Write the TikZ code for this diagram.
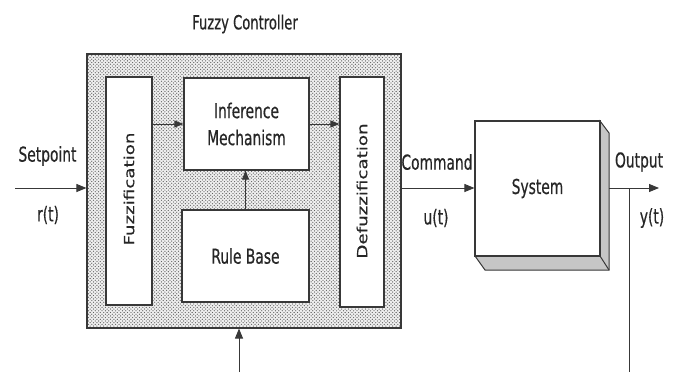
\documentclass[tikz,border=0pt]{standalone}
\usepackage{fontspec}
\setmainfont{DejaVu Sans Condensed}
\newfontfamily\hfont{DejaVu Sans Condensed}[FakeStretch=0.75,FakeBold=0.5]
\newfontfamily\vfont{DejaVu Sans Condensed}[FakeStretch=1.45,FakeBold=0.4]
\usetikzlibrary{arrows.meta,patterns,calc}
% sparse dot texture for the controller housing
\pgfdeclarepatternformonly{housingdots}{\pgfqpoint{-1pt}{-1pt}}{\pgfqpoint{2.5pt}{2.5pt}}{\pgfqpoint{3.4pt}{3.4pt}}{%
  \pgfpathcircle{\pgfqpoint{0pt}{0pt}}{0.65pt}
  \pgfpathcircle{\pgfqpoint{1.7pt}{1.7pt}}{0.65pt}
  \pgfusepath{fill}}
\begin{document}
\begin{tikzpicture}[x=1pt,y=-1pt,
  line color/.style={draw=black!78},
  block/.style={line color,line width=1.1pt,fill=white,inner sep=0pt,text=black!85,
    font=\hfont\fontsize{20.5}{27}\selectfont,align=center},
  label/.style={inner sep=0pt,text=black!85,font=\hfont\fontsize{20.5}{27}\selectfont},
  vlabel/.style={inner sep=0pt,text=black!85,rotate=90,font=\vfont\fontsize{14}{16}\selectfont},
  flow/.style={line color,line width=0.9pt,-{Triangle[length=10pt,width=8pt]}},
  innerflow/.style={line color,line width=0.8pt,-{Triangle[length=9pt,width=7pt]}},
  plain/.style={line color,line width=0.9pt}]
\useasboundingbox (0,0) rectangle (677,372);

% controller housing with dotted fill
\path[fill=gray!12] (87,54) rectangle (401,328);
\path[pattern=housingdots,pattern color=black!62] (87,54) rectangle (401,328);
\node[draw=black!78,line width=1.1pt,minimum width=314pt,minimum height=274pt,inner sep=0pt]
  (ctrl) at (244,191) {};
\node[label,font=\hfont\fontsize{19.5}{22}\selectfont] (ctrltitle) at (245,24) {Fuzzy Controller};

% inner blocks
\node[block,minimum width=46pt,minimum height=228pt] (fuzz) at (129,191) {};
\node[vlabel] (fuzztext) at (129,189) {Fuzzification};
\node[block,minimum width=125pt,minimum height=92pt] (inf) at (246.5,124) {Inference\\Mechanism};
\node[block,minimum width=127pt,minimum height=92pt] (rule) at (245.5,256) {Rule Base};
\node[block,minimum width=44pt,minimum height=230pt] (defuzz) at (362,192) {};
\node[vlabel] (defuzztext) at (362,191) {Defuzzification};

% plant block with bevelled sides
\path[fill=gray!45,line color,line width=1pt] (600,121) -- (609,133) -- (609,270) -- (485,270) -- (475,256) -- (600,256) -- cycle;
\draw[line color,line width=1pt] (600,256) -- (609,270);
\node[block,minimum width=125pt,minimum height=135pt] (sys) at (537.5,188.5) {System};

% signal labels
\node[label] (setpt) at (47.5,156) {Setpoint};
\node[label] (rt) at (48,215) {r(t)};
\node[label] (cmd) at (437,162) {Command};
\node[label] (ut) at (436,218) {u(t)};
\node[label] (outlbl) at (639,162) {Output};
\node[label] (yt) at (652,218) {y(t)};

% signal flow
\coordinate (src) at (15,188);
\coordinate (sink) at (659,188);
\coordinate (branch) at (629,188);
\coordinate (fbend) at (629,372);
\coordinate (fbin) at (239,372);
\draw[flow] (src) -- (src -| ctrl.west);
\draw[innerflow] (fuzz.east |- 0,124) -- (inf.west |- 0,124);
\draw[innerflow] (inf.east |- 0,124) -- (defuzz.west |- 0,124);
\draw[innerflow] (rule.north) -- (inf.south -| rule.north);
\draw[flow] (ctrl.east |- 0,188) -- (sys.west |- 0,188);
\draw[flow] (609,188) -- (sink);
\draw[plain] (branch) -- (fbend);
\draw[flow] (fbin) -- (fbin |- ctrl.south);
\end{tikzpicture}
\end{document}
